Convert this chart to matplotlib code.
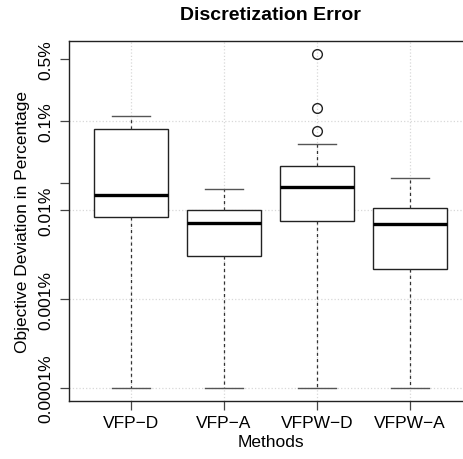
import numpy as np
import matplotlib
matplotlib.use("Agg")
import matplotlib.pyplot as plt

plt.rcParams['font.family'] = ['Liberation Sans', 'DejaVu Sans']

# box statistics (values in percent)
methods = ["VFP\u2212D", "VFP\u2212A", "VFPW\u2212D", "VFPW\u2212A"]
whislo = [0.0001, 0.0001, 0.0001, 0.0001]
q1 = [0.00845, 0.00303, 0.00757, 0.0022]
med = [0.0149, 0.00723, 0.0181, 0.0070]
q3 = [0.0813, 0.01014, 0.0317, 0.0105]
whishi = [0.1138, 0.0173, 0.0556, 0.0229]
fliers = [[], [], [0.571, 0.141, 0.0773], []]

ytick_major = [0.0001, 0.001, 0.01, 0.1]
ytick_major_lab = ["0.0001%", "0.001%", "0.01%", "0.1%"]
ytick_minor = [0.02, 0.5]
ytick_minor_lab = ["", "0.5%"]

stats = []
for i in range(len(methods)):
    stats.append(dict(label=methods[i], whislo=whislo[i], q1=q1[i], med=med[i],
                      q3=q3[i], whishi=whishi[i], fliers=fliers[i]))

fig = plt.figure(figsize=(4.64, 4.60), dpi=100)
ax = fig.add_axes([0.1494, 0.1267, 0.867, 0.782])

pos = np.arange(1, len(methods) + 1)
ax.bxp(stats, positions=pos, widths=0.8, patch_artist=True, showcaps=True,
       boxprops=dict(facecolor='white', edgecolor='#222222', linewidth=1.0),
       medianprops=dict(color='black', linewidth=2.4, solid_capstyle='butt'),
       whiskerprops=dict(color='#333333', linewidth=0.9, linestyle=(0, (2.5, 2.5))),
       capprops=dict(color='#555555', linewidth=1.0),
       flierprops=dict(marker='o', markersize=7, markerfacecolor='none',
                       markeredgecolor='#222222', markeredgewidth=1.0),
       capwidths=0.4, zorder=3)

ax.set_yscale('log')
ax.set_ylim(7.2e-5, 0.80)
ax.set_xlim(0.337, 4.663)

ax.set_yticks(ytick_major)
ax.set_yticklabels(ytick_major_lab, rotation=90, va='center')
ax.set_yticks(ytick_minor, minor=True)
ax.set_yticklabels(ytick_minor_lab, minor=True, rotation=90, va='center')
ax.set_xticks(pos)
ax.set_xticklabels(methods)

ax.tick_params(axis='both', which='both', labelsize=12.5, length=6.5, width=0.9,
               color='#444444', direction='out')
ax.tick_params(axis='y', which='both', pad=5)
ax.tick_params(axis='x', pad=3.5)

ax.grid(True, which='major', color='#d8d8d8', linestyle=':', linewidth=0.9, zorder=0)
ax.grid(False, which='minor')
ax.set_axisbelow(True)

for s in ax.spines.values():
    s.set_linewidth(1.0)
    s.set_color('#222222')
ax.spines['right'].set_visible(False)

ax.set_xlabel("Methods", fontsize=12.5, labelpad=3)
ax.set_ylabel("Objective Deviation in Percentage", fontsize=12.5, labelpad=6)
ax.set_title("Discretization Error", fontsize=14, fontweight='bold', pad=16)

fig.savefig("out.png", dpi=100)
